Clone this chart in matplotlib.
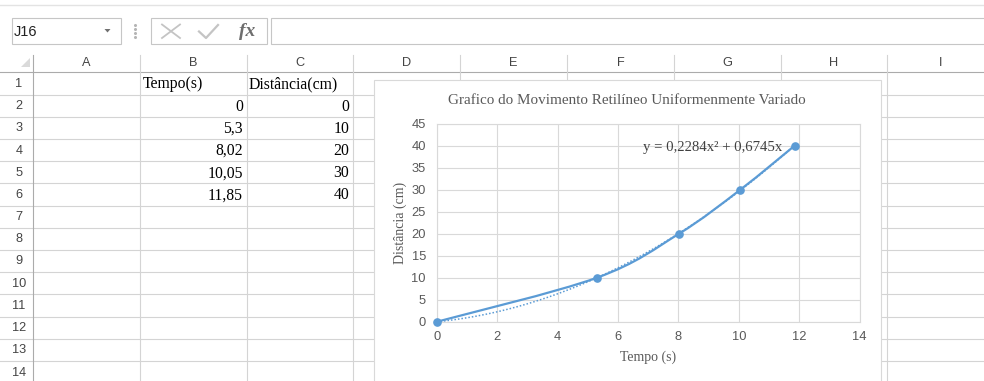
import numpy as np
import matplotlib
matplotlib.use("Agg")
import matplotlib.pyplot as plt
from matplotlib.path import Path
from matplotlib.patches import PathPatch, Rectangle, Polygon

# -------------------------------------------------
# DATA
# -------------------------------------------------
tempo = [0, 5.3, 8.02, 10.05, 11.85]
distancia = [0, 10, 20, 30, 40]
trend_a = 0.2284   # trendline y = a*x^2 + b*x
trend_b = 0.6745

col_letters = ["A", "B", "C", "D", "E", "F", "G", "H", "I"]
row_numbers = list(range(1, 15))
header_b = "Tempo(s)"
header_c = "Distância(cm)"
x_ticks = [0, 2, 4, 6, 8, 10, 12, 14]
y_ticks = [0, 5, 10, 15, 20, 25, 30, 35, 40, 45]
chart_title = "Grafico do Movimento Retilíneo Uniformenmente Variado"
x_label = "Tempo (s)"
y_label = "Distância (cm)"
name_box = "J16"

# -------------------------------------------------
# STYLE / LAYOUT (pixels)
# -------------------------------------------------
W, H = 984, 381
BLUE = "#5B9BD5"
GRID = "#D4D4D4"
CHART_GRID = "#D9D9D9"
SERIF = "Liberation Serif"
SANS = "Liberation Sans"

col_edges = [33, 140, 246.5, 353, 460, 567, 674, 780.5, 887, 994]
row_top = 72.3
row_h = 22.2

fig = plt.figure(figsize=(W / 100, H / 100), dpi=100)
bg = fig.add_axes([0, 0, 1, 1])
bg.set_xlim(0, W)
bg.set_ylim(H, 0)
bg.axis("off")

# -------------------------------------------------
# FORMULA BAR
# -------------------------------------------------
bg.plot([0, W], [5, 5], color="#E3E3E3", lw=1)
bg.add_patch(Rectangle((11.5, 17.5), 109.5, 26, fc="white", ec="#C6C6C6", lw=0.8))
bg.text(14, 31.5, name_box, ha="left", va="center", fontsize=10.5, family=SANS, color="#222222")
bg.add_patch(Polygon([[104.5, 29], [110.5, 29], [107.5, 32.5]], closed=True, fc="#707070", ec="none"))
bg.plot([135, 135, 135, 135], [25, 29, 33, 37], ls="none", marker="o", ms=1.2, color="#B5B5B5")
bg.add_patch(Rectangle((151, 17.5), 115.5, 26, fc="white", ec="#C6C6C6", lw=0.8))
bg.plot([162, 180], [24.5, 38], color="#C4C4C4", lw=1.3)
bg.plot([162, 180], [38, 24.5], color="#C4C4C4", lw=1.3)
bg.plot([199, 206, 218], [31.5, 38, 25], color="#C4C4C4", lw=1.6)
bg.text(247, 31, "fx", ha="center", va="center", fontsize=14, family=SERIF,
        style="italic", weight="bold", color="#6E6E6E")
bg.add_patch(Rectangle((270.5, 17.5), 720, 26, fc="white", ec="#C6C6C6", lw=0.8))

# -------------------------------------------------
# SHEET GRID
# -------------------------------------------------
n_rows = len(row_numbers)
for k in range(n_rows + 1):
    y = row_top + k * row_h
    bg.plot([0, W], [y, y], color=GRID if k else "#ABABAB", lw=0.8)
for xe in col_edges[1:]:
    bg.plot([xe, xe], [55, H], color=GRID, lw=0.8)
bg.plot([33, 33], [55, H], color="#ABABAB", lw=0.8)
bg.add_patch(Polygon([[30, 58], [30, 67], [21, 67]], closed=True, fc="#DADADA", ec="none"))

for i, letter in enumerate(col_letters):
    xc = (col_edges[i] + col_edges[i + 1]) / 2
    bg.text(xc, 63.5, letter, ha="center", va="center", fontsize=9.2, family=SANS, color="#444444")
for k, r in enumerate(row_numbers):
    yc = row_top + (k + 0.5) * row_h
    bg.text(19, yc + 0.5, str(r), ha="center", va="center", fontsize=9.2, family=SANS, color="#444444")


def cell_text(v):
    return str(v).replace(".", ",")


bg.text(143, row_top + 0.5 * row_h + 1, header_b, ha="left", va="center",
        fontsize=11.3, family=SERIF, color="black")
bg.text(249, row_top + 0.5 * row_h + 1, header_c, ha="left", va="center",
        fontsize=11.3, family=SERIF, color="black")
for k, (t, d) in enumerate(zip(tempo, distancia)):
    yc = row_top + (k + 1.5) * row_h + 1
    bg.text(243, yc, cell_text(t), ha="right", va="center", fontsize=11.3, family=SERIF, color="black")
    bg.text(349, yc, cell_text(d), ha="right", va="center", fontsize=11.3, family=SERIF, color="black")

# -------------------------------------------------
# CHART AREA
# -------------------------------------------------
bg.add_patch(Rectangle((373.5, 79.5), 507.5, 320, fc="white", ec=CHART_GRID, lw=0.8, zorder=5))
bg.text(627, 100, chart_title, ha="center", va="center", fontsize=10.9, family=SERIF,
        color="#595959", zorder=6)

px0, px1 = 437, 859.5
py0, py1 = 321.7, 123.7
ax = fig.add_axes([px0 / W, (H - py0) / H, (px1 - px0) / W, (py0 - py1) / H], zorder=10)
ax.set_xlim(0, 14)
ax.set_ylim(0, 45)
ax.set_xticks(x_ticks)
ax.set_yticks(y_ticks)
ax.grid(True, color=CHART_GRID, lw=0.8)
ax.set_axisbelow(True)
for s in ax.spines.values():
    s.set_color(CHART_GRID)
    s.set_linewidth(0.8)
ax.tick_params(length=0, colors="#595959", labelsize=9.3)
ax.tick_params(axis="y", pad=8)
ax.tick_params(axis="x", pad=6.5)
for lab in ax.get_xticklabels() + ax.get_yticklabels():
    lab.set_family(SANS)
ax.set_xlabel(x_label, family=SERIF, fontsize=10, color="#595959", labelpad=5.5)
ax.set_ylabel(y_label, family=SERIF, fontsize=10, color="#595959", labelpad=3)


# smoothed scatter line (Catmull-Rom bezier through the points)
def smooth_path(xs, ys):
    pts = np.column_stack([xs, ys]).astype(float)
    n = len(pts)
    verts = [pts[0]]
    codes = [Path.MOVETO]
    for i in range(n - 1):
        p0 = pts[max(i - 1, 0)]
        p1 = pts[i]
        p2 = pts[i + 1]
        p3 = pts[min(i + 2, n - 1)]
        verts += [p1 + (p2 - p0) / 6, p2 - (p3 - p1) / 6, p2]
        codes += [Path.CURVE4] * 3
    return Path(verts, codes)


# polynomial trendline
xt = np.linspace(0, tempo[-1], 120)
ax.plot(xt, trend_a * xt ** 2 + trend_b * xt, color=BLUE, lw=1.1, ls=(0, (1, 1.3)), zorder=3)
ax.add_patch(PathPatch(smooth_path(tempo, distancia), fill=False, ec=BLUE, lw=1.6,
                       capstyle="round", zorder=4))
ax.plot(tempo, distancia, ls="none", marker="o", ms=5.2, color=BLUE, zorder=5, clip_on=False)

eq = "y = {}x² + {}x".format(cell_text(trend_a), cell_text(trend_b))
fig.text(782 / W, 1 - 147.7 / H, eq, ha="right", va="center", fontsize=10.6, family=SERIF,
         color="#404040", zorder=20)

fig.savefig("out.png", dpi=100)
